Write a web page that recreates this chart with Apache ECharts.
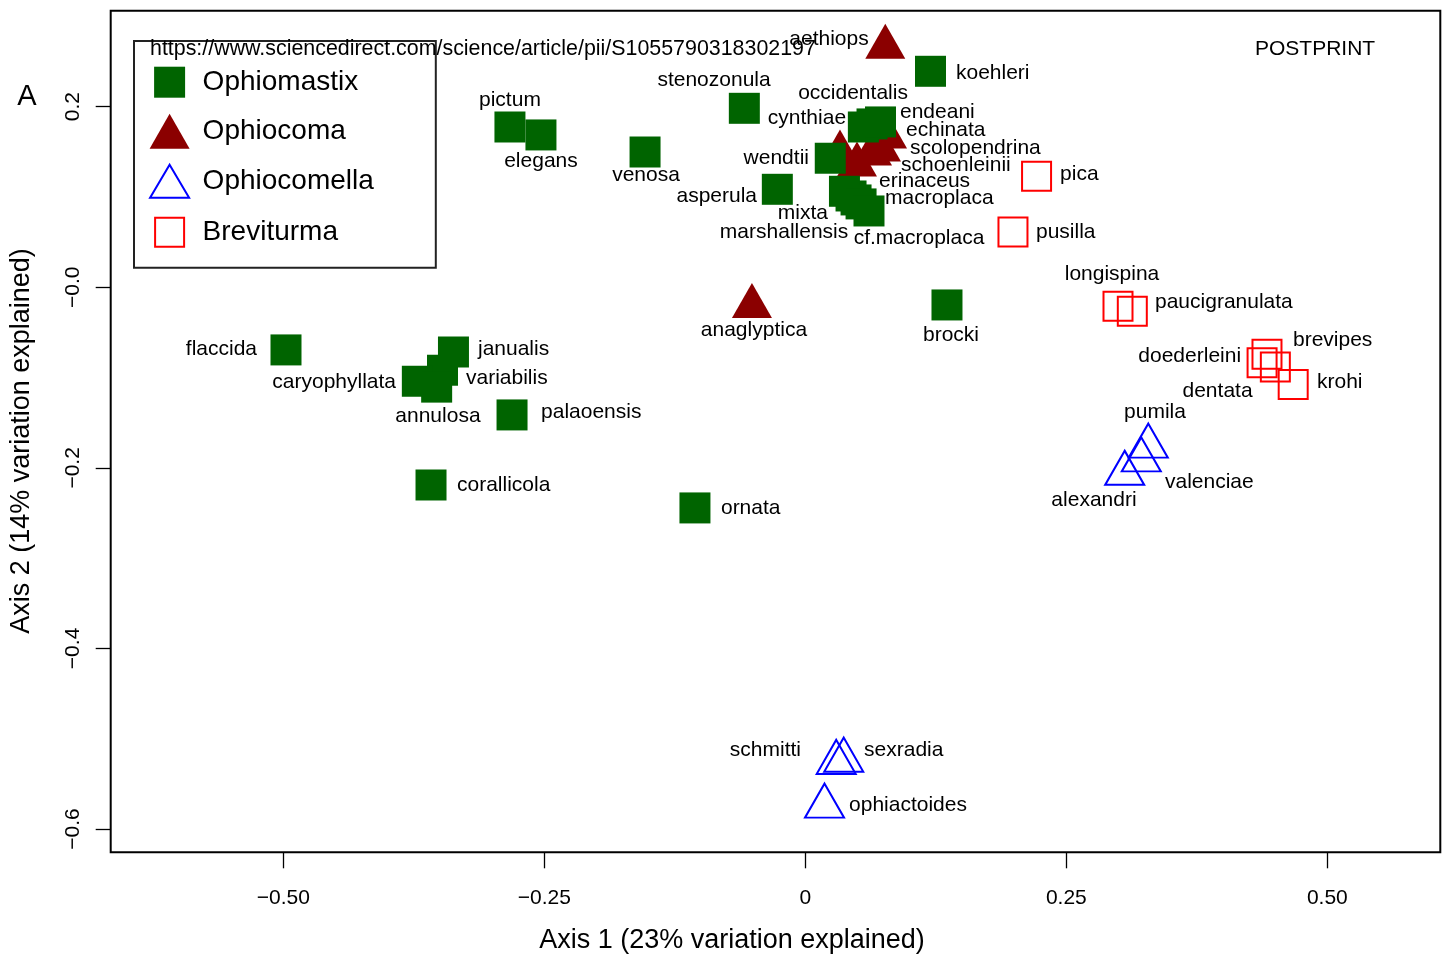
<!DOCTYPE html>
<html><head><meta charset="utf-8">
<script src="https://cdn.jsdelivr.net/npm/echarts@6/dist/echarts.min.js"></script>
<style>html,body{margin:0;padding:0;background:#fff}#c{width:1448px;height:959px}</style>
</head><body><div id="c"></div>
<script>
// ---- data ----
const groupNames = ['Ophiomastix', 'Ophiocoma', 'Ophiocomella', 'Breviturma'];

const ophiomastixNames = ['koehleri','stenozonula','pictum','elegans','venosa','occidentalis','cynthiae','endeani','wendtii','asperula','erinaceus','mixta','marshallensis','macroplaca','cf.macroplaca','brocki','flaccida','janualis','variabilis','caryophyllata','annulosa','palaoensis','corallicola','ornata'];
const ophiomastixX = [0.1199,-0.0584,-0.2829,-0.2532,-0.1535,0.0639,0.0556,0.0720,0.0239,-0.0268,0.0438,0.0375,0.0486,0.0534,0.0610,0.1357,-0.4974,-0.3370,-0.3475,-0.3716,-0.3531,-0.2809,-0.3585,-0.1057];
const ophiomastixY = [0.2392,0.1982,0.1775,0.1687,0.1498,0.1809,0.1775,0.1831,0.1429,0.1085,0.1011,0.1063,0.0967,0.0923,0.0845,-0.0196,-0.0694,-0.0717,-0.0919,-0.1041,-0.1106,-0.1414,-0.2190,-0.2444];

const ophiocomaNames = ['aethiops','anaglyptica','','','schoenleinii','scolopendrina','echinata'];
const ophiocomaX = [0.0766,-0.0511,0.0332,0.0495,0.0639,0.0725,0.0783];
const ophiocomaY = [0.2726,-0.0146,0.1554,0.1421,0.1543,0.1587,0.1731];

const ophiocomellaNames = ['pumila','valenciae','alexandri','schmitti','sexradia','ophiactoides'];
const ophiocomellaX = [0.3285,0.3218,0.3059,0.0296,0.0368,0.0184];
const ophiocomellaY = [-0.1699,-0.1851,-0.1999,-0.5202,-0.5177,-0.5686];

const breviturmaNames = ['pica','pusilla','longispina','paucigranulata','brevipes','doederleini','dentata','krohi'];
const breviturmaX = [0.2215,0.1989,0.2995,0.3132,0.4422,0.4375,0.4502,0.4673];
const breviturmaY = [0.1230,0.0612,-0.0210,-0.0266,-0.0742,-0.0835,-0.0883,-0.1077];

const xTickValues = [-0.5,-0.25,0,0.25,0.5];
const xTickLabels = ['\u22120.50','\u22120.25','0','0.25','0.50'];
const yTickValues = [-0.6,-0.4,-0.2,0,0.2];
const yTickLabels = ['\u22120.6','\u22120.4','\u22120.2','\u22120.0','0.2'];

const xAxisTitle = 'Axis 1 (23% variation explained)';
const yAxisTitle = 'Axis 2 (14% variation explained)';
const urlText = 'https://www.sciencedirect.com/science/article/pii/S1055790318302197';
const stampText = 'POSTPRINT';
const panelText = 'A';

// ---- label placement (style): [align, dx, dy] relative to marker centre, px ----
const labelPlacement = {
  koehleri:['left',25.5,1.7], stenozonula:['center',-30.3,-28.3], pictum:['center',0,-27],
  elegans:['center',0,26], venosa:['center',1,23], occidentalis:['center',-19,-31],
  cynthiae:['right',-17.3,-9], endeani:['left',19.5,-10], wendtii:['right',-21.3,0],
  asperula:['right',-20.3,6.7], erinaceus:['left',28,-15], mixta:['center',-41.5,21.7],
  marshallensis:['center',-72,32], macroplaca:['left',24,-6], 'cf.macroplaca':['center',50,27],
  brocki:['center',4,30], flaccida:['right',-29,-1], janualis:['left',24.5,-3],
  variabilis:['left',23.5,7.7], caryophyllata:['right',-21.3,0.7], annulosa:['center',1.3,28.8],
  palaoensis:['left',29,-3], corallicola:['left',26,0], ornata:['left',26,0],
  aethiops:['center',-56.3,-2.2], anaglyptica:['center',2,29.5], echinata:['left',19,-1],
  scolopendrina:['left',29,4], schoenleinii:['left',29,17],
  pumila:['center',6.7,-28.7], valenciae:['left',23.7,27.6], alexandri:['center',-30.7,32.2],
  schmitti:['right',-35.2,-7], sexradia:['left',20.3,-4.7], ophiactoides:['left',24.5,4.3],
  pica:['left',23.5,-2.2], pusilla:['left',23,0], longispina:['center',-6,-32.3],
  paucigranulata:['left',22.7,-9.3], brevipes:['left',26,-14.3], doederleini:['right',-21,-6.7],
  dentata:['center',-57.8,24], krohi:['left',23.8,-2.5]
};

const FONT = '"Liberation Sans", Arial, Helvetica, sans-serif';

function buildData(names, xs, ys) {
  return names.map((n, i) => {
    const p = labelPlacement[n];
    return {
      name: n,
      value: [xs[i], ys[i]],
      label: p ? { show: true, position: 'inside', align: p[0], verticalAlign: 'middle', offset: [p[1], p[2]] }
               : { show: false }
    };
  });
}

const baseLabel = { show: true, formatter: '{b}', color: '#000', opacity: 1, fontSize: 21, fontFamily: FONT, textBorderWidth: 0 };

function tickFmt(values, labels) {
  return function (v) {
    for (let i = 0; i < values.length; i++) if (Math.abs(values[i] - v) < 1e-9) return labels[i];
    return '';
  };
}

const chart = echarts.init(document.getElementById('c'), null, { renderer: 'canvas' });
chart.setOption({
  animation: false,
  backgroundColor: '#fff',
  grid: { left: 110.7, right: 7.7, top: 10.7, bottom: 106.7, show: true, borderColor: '#000', borderWidth: 2, backgroundColor: 'transparent', containLabel: false, outerBoundsMode: 'none' },
  xAxis: {
    type: 'value', min: -0.6653, max: 0.6082, position: 'bottom',
    axisLine: { show: false, onZero: false },
    splitLine: { show: false },
    axisTick: { show: true, inside: false, length: 16, lineStyle: { color: '#000', width: 1.3 }, customValues: xTickValues },
    axisLabel: { customValues: xTickValues, formatter: tickFmt(xTickValues, xTickLabels), margin: 35, fontSize: 21, color: '#000', fontFamily: FONT }
  },
  yAxis: {
    type: 'value', min: -0.6258, max: 0.3063, position: 'left',
    axisLine: { show: false, onZero: false },
    splitLine: { show: false },
    axisTick: { show: true, inside: false, length: 15, lineStyle: { color: '#000', width: 1.3 }, customValues: yTickValues },
    axisLabel: { customValues: yTickValues, formatter: tickFmt(yTickValues, yTickLabels), rotate: 90, margin: 27, fontSize: 21, color: '#000', fontFamily: FONT }
  },
  legend: {
    orient: 'vertical', left: 134, top: 41,
    padding: [23.7, 62, 17, 14.6],
    itemWidth: 56, itemHeight: 35, itemGap: 14,
    borderColor: '#222', borderWidth: 2, backgroundColor: '#fff',
    selectedMode: false,
    textStyle: { fontSize: 28, color: '#000', fontFamily: FONT },
    data: [
      { name: groupNames[0], icon: 'path://M0,0M40,35M4.5,2L35.5,2L35.5,33L4.5,33Z', itemStyle: { color: '#006400', borderWidth: 0, opacity: 1 } },
      { name: groupNames[1], icon: 'path://M0,0M40,35M20,0L40,35L0,35Z', itemStyle: { color: '#8B0000', borderWidth: 0, opacity: 1 } },
      { name: groupNames[2], icon: 'path://M0,0M40,35M20,1L39.5,34L0.5,34Z', itemStyle: { color: 'rgba(0,0,0,0)', borderColor: '#0000FF', borderWidth: 2, opacity: 1 } },
      { name: groupNames[3], icon: 'path://M0,0M40,35M5.5,3L34.5,3L34.5,32L5.5,32Z', itemStyle: { color: 'rgba(0,0,0,0)', borderColor: '#FF0000', borderWidth: 2, opacity: 1 } }
    ]
  },
  graphic: [
    { type: 'text', x: 150, y: 49, z: 100, style: { text: urlText, font: '21.4px ' + FONT, fill: '#000', align: 'left', verticalAlign: 'middle' } },
    { type: 'text', x: 1255, y: 49, z: 100, style: { text: stampText, font: '21px ' + FONT, fill: '#000', align: 'left', verticalAlign: 'middle' } },
    { type: 'text', x: 27, y: 97, z: 100, style: { text: panelText, font: '29px ' + FONT, fill: '#000', align: 'center', verticalAlign: 'middle' } },
    { type: 'text', x: 732, y: 941, z: 100, style: { text: xAxisTitle, font: '27px ' + FONT, fill: '#000', align: 'center', verticalAlign: 'middle' } },
    { type: 'text', x: 22, y: 441, rotation: Math.PI / 2, z: 100, style: { text: yAxisTitle, font: '27px ' + FONT, fill: '#000', align: 'center', verticalAlign: 'middle' } }
  ],
  series: [
    { type: 'scatter', name: groupNames[1], symbol: 'triangle', symbolSize: [40, 35],
      itemStyle: { color: '#8B0000', opacity: 1 }, label: baseLabel, emphasis: { disabled: true },
      data: buildData(ophiocomaNames, ophiocomaX, ophiocomaY) },
    { type: 'scatter', name: groupNames[0], symbol: 'rect', symbolSize: 31,
      itemStyle: { color: '#006400', opacity: 1 }, label: baseLabel, emphasis: { disabled: true },
      data: buildData(ophiomastixNames, ophiomastixX, ophiomastixY) },
    { type: 'scatter', name: groupNames[2], symbol: 'triangle', symbolSize: [39, 34],
      itemStyle: { color: 'rgba(0,0,0,0)', borderColor: '#0000FF', borderWidth: 2, opacity: 1 }, label: baseLabel, emphasis: { disabled: true },
      data: buildData(ophiocomellaNames, ophiocomellaX, ophiocomellaY) },
    { type: 'scatter', name: groupNames[3], symbol: 'rect', symbolSize: 29,
      itemStyle: { color: 'rgba(0,0,0,0)', borderColor: '#FF0000', borderWidth: 2, opacity: 1 }, label: baseLabel, emphasis: { disabled: true },
      data: buildData(breviturmaNames, breviturmaX, breviturmaY) }
  ]
});
</script>
</body></html>
